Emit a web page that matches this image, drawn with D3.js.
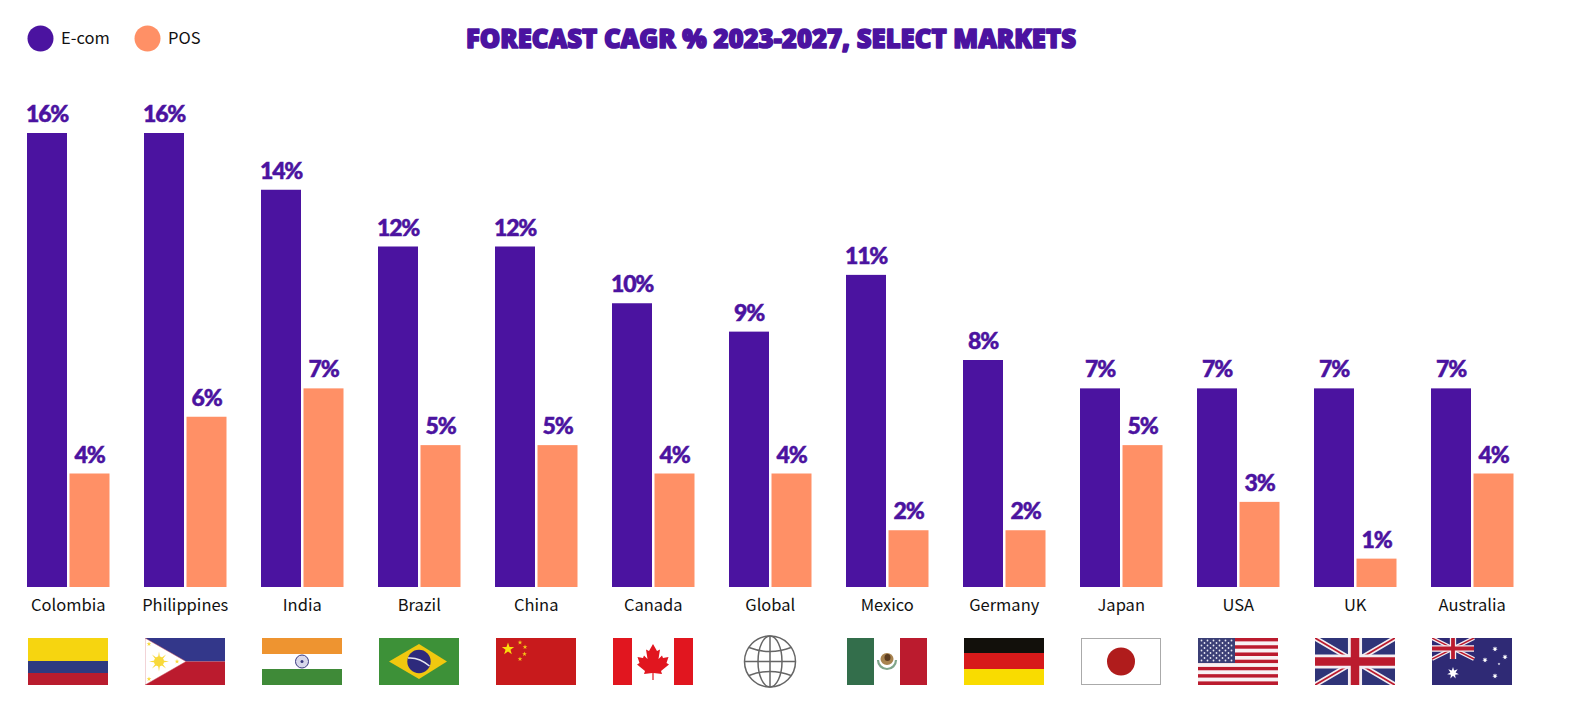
<!DOCTYPE html>
<html><head><meta charset="utf-8">
<script src="https://cdn.jsdelivr.net/npm/d3@7/dist/d3.min.js"></script>
<style>html,body{margin:0;padding:0;background:#fff}svg{display:block}</style>
</head><body><svg id="c" width="1576" height="712"></svg>
<script>
const categories=["Colombia","Philippines","India","Brazil","China","Canada","Global","Mexico","Germany","Japan","USA","UK","Australia"];
const seriesNames=["E-com","POS"];
const ecomValues=[16,16,14,12,12,10,9,11,8,7,7,7,7];
const posValues=[4,6,7,5,5,4,4,2,2,5,3,1,4];
const chartTitle="FORECAST CAGR % 2023-2027, SELECT MARKETS";
const flagIds=["co","ph","in","br","cn","ca","globe","mx","de","jp","us","uk","au"];

const PURPLE="#4b13a0",ORANGE="#ff9066";
const LABEL_FONT="'Noto Sans CJK SC','Noto Sans'";
const color=d3.scaleOrdinal(seriesNames,[PURPLE,ORANGE]);
const svg=d3.select("#c");
const y=d3.scaleLinear().domain([0,16]).range([587,133]);
const x0=d3.scaleBand().domain(categories).range([27,1513.5]).paddingInner(34.5/117);
const x1=d3.scaleBand().domain(seriesNames).range([0,x0.bandwidth()]).paddingInner(2.5/42.5);

// title
svg.append("text").attr("x",771).attr("y",47.5).attr("text-anchor","middle")
 .attr("font-family","'Open Sans'").attr("font-weight",800).attr("font-size",26)
 .attr("fill",PURPLE).attr("stroke",PURPLE).attr("stroke-width",1.6).attr("stroke-linejoin","round")
 .attr("textLength",610).attr("lengthAdjust","spacingAndGlyphs").text(chartTitle);

// legend
const legendX=d3.scaleOrdinal(seriesNames,[40.5,147.5]);
const lg=svg.append("g").selectAll("g").data(seriesNames).join("g").attr("transform",d=>`translate(${legendX(d)},38.5)`);
lg.append("circle").attr("r",13).attr("fill",d=>color(d));
lg.append("text").attr("x",20.5).attr("y",5.5).attr("font-family",LABEL_FONT).attr("font-size",16.5).attr("fill","#111").text(d=>d);

// bars
const rows=categories.map((c,i)=>({c,values:[{s:"E-com",v:ecomValues[i]},{s:"POS",v:posValues[i]}],flag:flagIds[i]}));
const groups=svg.append("g").selectAll("g").data(rows).join("g").attr("transform",d=>`translate(${x0(d.c)},0)`);
groups.selectAll("rect").data(d=>d.values).join("rect")
 .attr("x",d=>x1(d.s)).attr("y",d=>y(d.v)).attr("width",x1.bandwidth()).attr("height",d=>y(0)-y(d.v)).attr("fill",d=>color(d.s));
groups.selectAll("text.v").data(d=>d.values).join("text").attr("class","v")
 .attr("x",d=>x1(d.s)+x1.bandwidth()/2).attr("y",d=>y(d.v)-11).attr("text-anchor","middle")
 .attr("font-family","Lato").attr("font-weight",900).attr("font-size",23).attr("letter-spacing",-1.3)
 .attr("stroke",PURPLE).attr("stroke-width",.5).attr("fill",PURPLE).text(d=>d.v+"%");
groups.append("text").attr("x",x0.bandwidth()/2).attr("y",611).attr("text-anchor","middle")
 .attr("font-family",LABEL_FONT).attr("font-size",16.5).attr("fill","#111").text(d=>d.c);

// flags: each drawn in a local 80x47 box
function R(g,x,y,w,h,f){return g.append("rect").attr("x",x).attr("y",y).attr("width",w).attr("height",h).attr("fill",f);}
function star(g,cx,cy,r,f,n=5,inner=.4,rot=0){
  const p=[];for(let i=0;i<n*2;i++){const a=-Math.PI/2+rot+i*Math.PI/n,q=i%2?r*inner:r;p.push([cx+q*Math.cos(a),cy+q*Math.sin(a)]);}
  return g.append("polygon").attr("points",p.map(d=>d.join(",")).join(" ")).attr("fill",f);
}
function P(g,d,f,s,w){return g.append("path").attr("d",d).attr("fill",f||"none").attr("stroke",s||"none").attr("stroke-width",w||0);}
function union(g,w,h,big){
  const l=(x1,y1,x2,y2,c,sw)=>g.append("line").attr("x1",x1).attr("y1",y1).attr("x2",x2).attr("y2",y2).attr("stroke",c).attr("stroke-width",sw);
  const k=big?1:.8;
  l(0,0,w,h,"#f4eef2",5*k);l(w,0,0,h,"#f4eef2",5*k);
  l(0,0,w,h,"#bb1b2e",1.8*k);l(w,0,0,h,"#bb1b2e",1.8*k);
  l(w/2,0,w/2,h,"#f4eef2",h*.3);l(0,h/2,w,h/2,"#f4eef2",h*.3);
  l(w/2,0,w/2,h,"#bb1b2e",h*.18);l(0,h/2,w,h/2,"#bb1b2e",h*.18);
}
const flags={
 co(g){R(g,0,0,80,23,"#f6d510");R(g,0,23,80,12,"#2f3a80");R(g,0,35,80,12,"#b91c2e");},
 ph(g){R(g,0,0,80,23.5,"#33378a");R(g,0,23.5,80,23.5,"#bb1b2e");
   g.append("polygon").attr("points","0,0 41,23.5 0,47").attr("fill","#fff").attr("stroke","#c9505f").attr("stroke-width",.5);
   g.append("circle").attr("cx",14).attr("cy",23.5).attr("r",5).attr("fill","#f8d93a");
   star(g,14,23.5,10,"#f8d93a",8,.3);star(g,4,6,2.5,"#f8d93a");star(g,4,41,2.5,"#f8d93a");star(g,32,23.5,2.5,"#f8d93a");},
 in(g){R(g,0,0,80,16,"#ee9430");R(g,0,31,80,16,"#3f8a38");
   g.append("circle").attr("cx",40).attr("cy",23.5).attr("r",6.5).attr("fill","#d8d8ea").attr("stroke","#3a3a80").attr("stroke-width",1);
   g.append("circle").attr("cx",40).attr("cy",23.5).attr("r",1.5).attr("fill","#3a3a80");},
 br(g){R(g,0,0,80,47,"#3d9138");
   g.append("polygon").attr("points","10,23.5 40,6 68,23.5 40,41").attr("fill","#f0c80f");
   g.append("circle").attr("cx",40).attr("cy",23.5).attr("r",11.7).attr("fill","#2e2a7c");
   P(g,"M29,20 Q40,19 50.5,28",null,"#e8e8f0",1.5);},
 cn(g){R(g,0,0,80,47,"#c81a1c");star(g,12,11,6.5,"#fbdc0b");
   [[24,4.5],[29,9],[28.5,16],[24,21]].forEach(d=>star(g,d[0],d[1],2.5,"#f5c518"));},
 ca(g){R(g,0,0,19,47,"#e1161f");R(g,61,0,19,47,"#e1161f");
   const half=[[0,6],[4,13],[7,11.5],[5.5,21],[9,17.5],[10,20],[15.5,19],[13.5,25],[16,26.5],[8,33],[9,36],[.6,35],[.6,42]];
   const pts=half.map(d=>[40+d[0],d[1]]).concat(half.slice().reverse().map(d=>[40-d[0],d[1]]));
   g.append("polygon").attr("points",pts.map(d=>d.join(",")).join(" ")).attr("fill","#e1161f");},
 globe(g){const c="#666",cx=40,cy=23.5,r=25.5,sw=1.5;
   const E=(rx,ry)=>g.append("ellipse").attr("cx",cx).attr("cy",cy).attr("rx",rx).attr("ry",ry).attr("fill","none").attr("stroke",c).attr("stroke-width",sw);
   E(r,r);E(12,r);
   P(g,`M${cx},${cy-r}V${cy+r}M${cx-r},${cy}H${cx+r}`,null,c,sw);
   P(g,`M${cx-21},${cy-14}Q${cx},${cy-6} ${cx+21},${cy-14}M${cx-21},${cy+14}Q${cx},${cy+6} ${cx+21},${cy+14}`,null,c,sw);},
 mx(g){R(g,0,0,27,47,"#336e4b");R(g,53,0,27,47,"#bb1b2e");
   P(g,"M31,22 A9,9 0 0 0 49,22",null,"#7fa58a",2.2);
   g.append("ellipse").attr("cx",40).attr("cy",21).attr("rx",6.5).attr("ry",6).attr("fill","#a8834f");
   g.append("ellipse").attr("cx",40.5).attr("cy",19.5).attr("rx",3).attr("ry",3.5).attr("fill","#5c3d20");},
 de(g){R(g,0,0,80,15,"#12100b");R(g,0,15,80,16,"#d71a1a");R(g,0,31,80,16,"#f9dc00");},
 jp(g){g.append("rect").attr("x",.5).attr("y",.5).attr("width",79).attr("height",46).attr("fill","#fff").attr("stroke","#aaa").attr("stroke-width",1);
   g.append("circle").attr("cx",40).attr("cy",23.5).attr("r",14).attr("fill","#b01c1c");},
 us(g){d3.range(13).forEach(i=>R(g,0,i*47/13,80,47/13,i%2?"#f8f2f4":"#bb1b2e"));
   R(g,0,0,37,25,"#3b3f76");
   d3.range(9).forEach(r=>d3.range(r%2?5:6).forEach(c=>g.append("circle").attr("cx",3.5+c*6+(r%2?3:0)).attr("cy",2.5+r*2.5).attr("r",.9).attr("fill","#e8e8f2")));},
 uk(g){R(g,0,0,80,47,"#2f3478");union(g,80,47,true);},
 au(g){R(g,0,0,80,47,"#2f2a75");const m=g.append("g");R(m,0,0,42,21,"#2f2a75");union(m,42,21,false);
   star(g,21,35,6,"#fff",7,.45);
   [[63,11],[53,22],[73,19],[63,38]].forEach(d=>star(g,d[0],d[1],2.8,"#fff",7,.45));star(g,67,26,1.5,"#fff");}
};
groups.each(function(d){
  const id="clip-"+d.flag,isGlobe=d.flag==="globe";
  svg.append("clipPath").attr("id",id).append("rect").attr("width",isGlobe?90:80).attr("height",isGlobe?60:47).attr("x",isGlobe?-5:0).attr("y",isGlobe?-6:0);
  const g=d3.select(this).append("g").attr("transform",`translate(${x0.bandwidth()/2-40.25},638)`).attr("clip-path",`url(#${id})`);
  flags[d.flag](g);
});
</script></body></html>
